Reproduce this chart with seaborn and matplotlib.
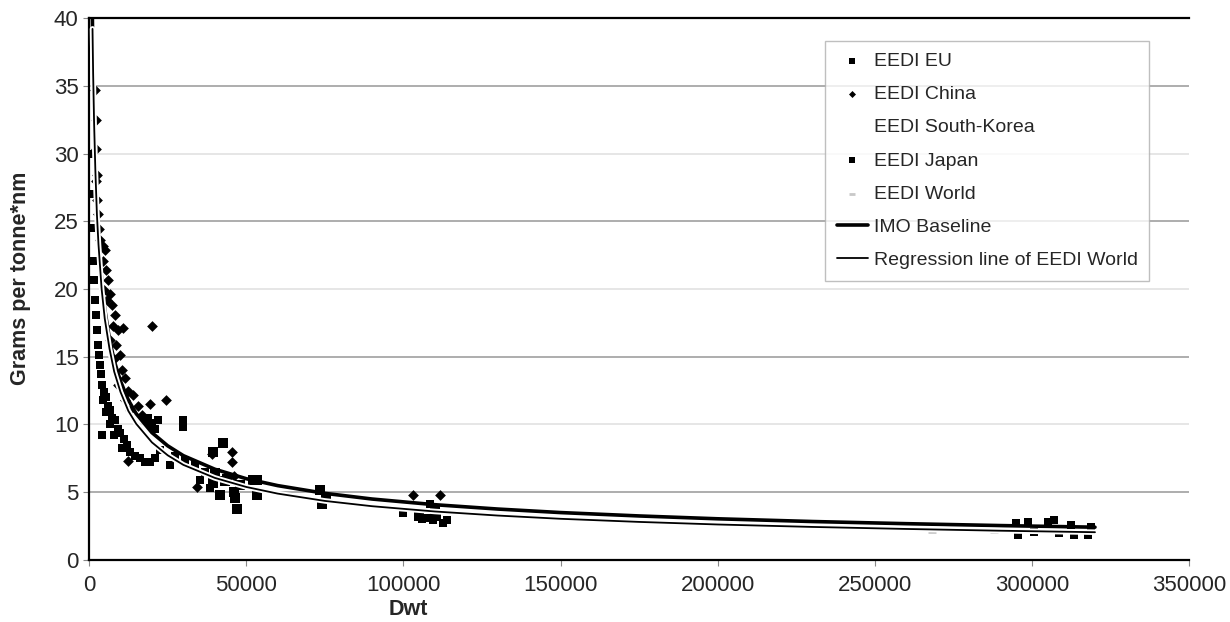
import matplotlib
matplotlib.use("Agg")
import matplotlib.pyplot as plt
import matplotlib.patheffects as pe
import seaborn as sns

# ---- data ----
eu_dwt = [600, 800, 1000, 1300, 1600, 1900, 2200, 2500, 2900, 3200, 3500, 3800, 4100, 4100,
          4500, 4800, 5400, 5400, 6100, 6700, 6700, 7300, 8000, 8300, 9200, 9900, 10500,
          11100, 12100, 13100, 14600, 16200, 17800, 18800, 19400, 20000, 21000, 21000,
          22000, 22600, 25800, 27400, 30000, 30000, 30600, 33800, 35400, 37000, 38500,
          100000, 104500, 106000, 107500, 108600, 109500, 110800, 112700, 114000,
          295000, 295500, 298700, 300600, 305000, 307000, 308600, 312400, 313400, 317800, 318800]
eu_val = [30.0, 27.0, 24.5, 22.1, 20.7, 19.2, 18.1, 17.0, 15.9, 15.1, 14.4, 13.7, 12.9, 9.2,
          11.8, 12.4, 12.0, 10.9, 11.4, 11.1, 10.0, 10.5, 9.2, 10.3, 9.7, 9.4, 8.3,
          8.9, 8.5, 8.0, 7.7, 7.5, 7.2, 10.5, 7.2, 10.1, 9.7, 7.5,
          10.3, 8.1, 7.0, 7.7, 10.3, 9.8, 7.4, 7.0, 5.9, 6.5, 5.3,
          3.5, 3.2, 3.0, 3.1, 4.1, 2.95, 3.2, 2.7, 2.95,
          2.7, 1.85, 2.8, 2.1, 2.8, 2.95, 2.0, 2.6, 1.85, 1.85, 2.4]

china_dwt = [1900, 2200, 2200, 2200, 2500, 2500, 2900, 3200, 3500, 4500, 4500, 4800, 5100,
             5400, 5700, 6100, 6700, 6700, 7300, 7600, 8000, 8300, 8600, 9200, 9200, 9900,
             10500, 10800, 11500, 11500, 12400, 12400, 13100, 14000, 15600, 16900, 17800,
             19400, 19400, 20000, 24500, 34400, 39000, 45500, 45500, 46000, 103000, 111800]
china_val = [34.7, 32.5, 30.3, 28.0, 28.4, 26.6, 25.5, 24.4, 23.6, 23.2, 22.1, 19.9, 22.9,
             21.4, 19.2, 20.7, 19.6, 16.2, 18.8, 17.3, 14.8, 18.1, 15.9, 17.0, 12.9, 15.1,
             14.0, 17.1, 13.4, 11.8, 12.5, 7.3, 11.1, 12.2, 11.4, 10.7, 10.3,
             11.5, 10.0, 17.3, 11.8, 5.4, 7.8, 8.0, 7.2, 6.2, 4.8, 4.8]

japan_dwt = [39500, 39500, 40100, 41700, 42700, 43300, 44000, 46000, 46500, 47100, 48000,
             48100, 52200, 53500, 53500, 73600, 74200, 75500, 105000, 110000]
japan_val = [8.0, 5.7, 6.4, 4.8, 8.6, 5.8, 6.0, 5.0, 4.6, 3.8, 5.5,
             5.5, 5.9, 4.8, 5.9, 5.2, 4.1, 4.6, 3.4, 3.6]

world_dwt = [120000, 135000, 150000, 205000, 268000, 288000]
world_val = [3.45, 3.2, 3.0, 2.55, 2.05, 2.05]

imo_dwt = [900, 1200, 1600, 2000, 2500, 3000, 4000, 5000, 6500, 8000, 10000, 12500, 15000,
           20000, 25000, 30000, 40000, 50000, 60000, 75000, 90000, 110000, 130000, 150000,
           175000, 200000, 230000, 260000, 290000, 320000]
imo_val = [43.0, 37.3, 32.4, 29.1, 26.0, 23.8, 20.7, 18.5, 16.3, 14.7, 13.2, 11.8, 10.8,
           9.4, 8.43, 7.7, 6.7, 6.0, 5.49, 4.92, 4.5, 4.08, 3.76, 3.5,
           3.25, 3.04, 2.84, 2.68, 2.54, 2.42]

reg_dwt = [1100, 1300, 1600, 2000, 2500, 3000, 4000, 5000, 6500, 8000, 10000, 12500, 15000,
           20000, 25000, 30000, 40000, 50000, 60000, 75000, 90000, 110000, 130000, 150000,
           175000, 200000, 230000, 260000, 290000, 320000]
reg_val = [39.2, 35.9, 32.3, 28.8, 25.5, 23.3, 20.0, 17.8, 15.6, 13.9, 12.4, 11.0, 10.05,
           8.68, 7.73, 7.02, 6.06, 5.39, 4.9, 4.36, 3.97, 3.58, 3.28, 3.04,
           2.81, 2.62, 2.44, 2.29, 2.16, 2.05]

sns.set_style("white")
plt.rcParams['font.family'] = ['Liberation Sans', 'DejaVu Sans']

fig = plt.figure(figsize=(12.3, 6.22), dpi=100)
ax = fig.add_axes([0.0724, 0.0997, 0.8945, 0.8713])

# grid lines, alternating shade like the original
for yv in range(5, 40, 5):
    ax.axhline(yv, color='#a0a0a0' if yv % 10 else '#e2e2e2', lw=1.2, zorder=0)

sns.scatterplot(x=eu_dwt, y=eu_val, marker='s', s=40, color='black', edgecolor='black',
                linewidth=0, label='EEDI EU', ax=ax, zorder=2)
sns.scatterplot(x=china_dwt, y=china_val, marker='D', s=30, color='black', edgecolor='black',
                linewidth=0, label='EEDI China', ax=ax, zorder=2)
ax.scatter([], [], marker='s', s=20, color='white', label='EEDI South-Korea')
sns.scatterplot(x=japan_dwt, y=japan_val, marker='s', s=44, color='black', edgecolor='black',
                linewidth=0, label='EEDI Japan', ax=ax, zorder=2)
sns.scatterplot(x=world_dwt, y=world_val, marker='_', s=40, color='#c8c8c8',
                linewidth=2, label='EEDI World', ax=ax, zorder=2)

sns.lineplot(x=imo_dwt, y=imo_val, color='black', lw=2.6, sort=False, estimator=None,
             label='IMO Baseline', ax=ax, zorder=3)
sns.lineplot(x=reg_dwt, y=reg_val, color='black', lw=1.3, sort=False, estimator=None,
             label='Regression line of EEDI World', ax=ax, zorder=4,
             path_effects=[pe.withStroke(linewidth=4, foreground='white')])

ax.set_xlim(0, 350000)
ax.set_ylim(0, 40)
ax.set_xticks(range(0, 350001, 50000))
ax.set_yticks(range(0, 41, 5))
ax.tick_params(axis='both', labelsize=16, length=4, width=0.8, color='#888888',
               direction='out', left=True, bottom=True)
ax.tick_params(axis='x', pad=7)

for side in ['left', 'bottom', 'top']:
    ax.spines[side].set_color('black')
    ax.spines[side].set_linewidth(1.6)
ax.spines['right'].set_visible(False)

ax.set_xlabel('Dwt', fontsize=15.5, fontweight='bold')
ax.set_ylabel('Grams per tonne*nm', fontsize=15.5, fontweight='bold')
ax.xaxis.set_label_coords(0.29, -0.072)
ax.yaxis.set_label_coords(-0.053, 0.52)

leg = ax.legend(loc='upper left', bbox_to_anchor=(0.66, 0.976), fontsize=14,
                frameon=True, fancybox=False, edgecolor='#b0b0b0', labelspacing=0.8,
                handlelength=1.6, handletextpad=0.3, borderpad=0.6, markerscale=0.65)
leg.get_frame().set_linewidth(1.0)
for line in leg.get_lines():
    if line.get_label() == 'Regression line of EEDI World':
        line.set_path_effects([])

fig.savefig('out.png', dpi=100)
